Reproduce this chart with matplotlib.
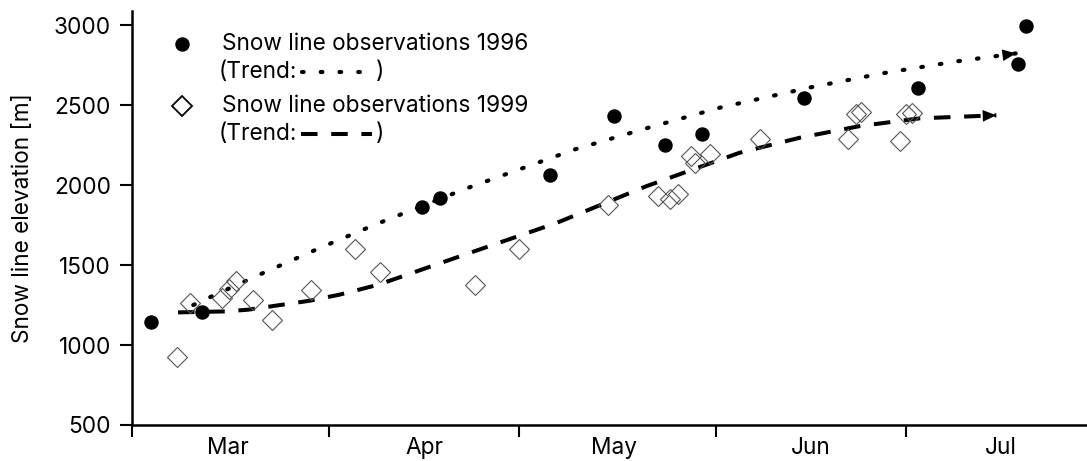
import matplotlib.pyplot as plt
from matplotlib.lines import Line2D

plt.rcParams['font.family'] = ['Inter', 'DejaVu Sans']

# x values are days after 1 March
months = ['Mar', 'Apr', 'May', 'Jun', 'Jul']
month_start = [0, 31, 61, 92, 122]
month_mid = [15, 46, 76, 107, 137]

day_96 = [2.9, 11.0, 45.7, 48.6, 65.9, 76.0, 84.1, 89.8, 106.0, 124.0, 139.7, 140.9]
elev_96 = [1141, 1206, 1862, 1916, 2062, 2432, 2250, 2317, 2545, 2607, 2756, 2996]

day_99 = [7.0, 9.1, 14.1, 15.2, 16.3, 19.1, 22.1, 28.1, 35.1, 39.1, 54.0, 61.0, 75.0,
          82.9, 84.8, 86.1, 88.1, 88.7, 91.1, 99.0, 112.9, 114.1, 115.0, 121.1, 122.0, 123.0]
elev_99 = [924, 1262, 1294, 1350, 1402, 1283, 1154, 1346, 1601, 1454, 1377, 1603, 1874,
           1931, 1910, 1947, 2181, 2140, 2196, 2286, 2286, 2442, 2457, 2275, 2442, 2453]

trend96_day = [9.6, 12.5, 21.0, 29.6, 38.3, 52.7, 69.8, 81.1, 92.7, 106.9, 118.4, 130.0, 139.4]
trend96_elev = [1250, 1304, 1457, 1607, 1753, 1979, 2223, 2355, 2484, 2610, 2699, 2773, 2823]
trend99_day = [7.2, 14.6, 18.3, 28.0, 32.7, 38.8, 51.7, 66.9, 81.1, 95.8, 105.3, 114.8, 124.2, 136.3]
trend99_elev = [1204, 1210, 1221, 1277, 1315, 1377, 1555, 1763, 1993, 2202, 2296, 2369, 2417, 2436]

fs = 16.3
dot_style = dict(color='k', lw=3.0, linestyle=(0, (0.4, 4.1)), dash_capstyle='round')
dash_style = dict(color='k', lw=2.9, linestyle=(0, (4.1, 3.4)), dash_capstyle='butt')

fig = plt.figure(figsize=(10.87, 4.61), dpi=100)
ax = fig.add_axes([0.1218, 0.0781, 0.8782, 0.8987])

# trends
ax.plot(trend96_day, trend96_elev, **dot_style)
ax.plot(trend99_day, trend99_elev, **dash_style)
for d, e in [(trend96_day, trend96_elev), (trend99_day, trend99_elev)]:
    ax.annotate('', xy=(d[-1], e[-1]), xytext=(d[-2], e[-2]),
                arrowprops=dict(arrowstyle='-|>,head_length=0.7,head_width=0.3',
                                mutation_scale=14, color='k', lw=0,
                                shrinkA=0, shrinkB=0))

# observations
ax.plot(day_99, elev_99, 'D', ms=10, mfc='none', mec='#555555', mew=0.8, ls='none')
ax.plot(day_96, elev_96, 'o', ms=9.4, color='k', ls='none')

ax.set_xlim(0, 150.6)
ax.set_ylim(500, 3090)

for s in ['top', 'right']:
    ax.spines[s].set_visible(False)
for s in ['left', 'bottom']:
    ax.spines[s].set_linewidth(1.8)

ax.set_xticks(month_start)
ax.set_xticklabels([])
ax.set_xticks(month_mid, minor=True)
ax.set_xticklabels(months, minor=True, fontsize=fs)
ax.tick_params(axis='x', which='major', length=8.5, width=1.5, direction='out')
ax.tick_params(axis='x', which='minor', length=0, pad=9)

ax.set_yticks([500, 1000, 1500, 2000, 2500, 3000])
ax.tick_params(axis='y', length=8.5, width=1.5, direction='out', pad=7, labelsize=fs)

ax.set_ylabel('Snow line elevation [m]', fontsize=fs)
ax.yaxis.set_label_coords(-0.103, 0.5)

# legend, drawn by hand
tr = ax.transAxes
mx, tx = 0.052, 0.0939
rows = [0.9196, 0.852, 0.770, 0.702]
ax.plot([mx], [rows[0]], 'o', ms=9.4, color='k', transform=tr, clip_on=False)
ax.text(tx, rows[0], 'Snow line observations 1996', transform=tr, va='center', fontsize=fs)
ax.text(tx - 0.004, rows[1], '(Trend:', transform=tr, va='center', fontsize=fs)
ax.add_line(Line2D([0.178, 0.252], [rows[1], rows[1]], transform=tr, **dot_style))
ax.text(0.2555, rows[1], ')', transform=tr, va='center', fontsize=fs)
ax.plot([mx], [rows[2]], 'D', ms=10, mfc='none', mec='k', mew=1.3, transform=tr, clip_on=False)
ax.text(tx, rows[2], 'Snow line observations 1999', transform=tr, va='center', fontsize=fs)
ax.text(tx - 0.004, rows[3], '(Trend:', transform=tr, va='center', fontsize=fs)
ax.add_line(Line2D([0.177, 0.2505], [rows[3], rows[3]], transform=tr, **dash_style))
ax.text(0.2555, rows[3], ')', transform=tr, va='center', fontsize=fs)

fig.savefig('out.png', dpi=100)
